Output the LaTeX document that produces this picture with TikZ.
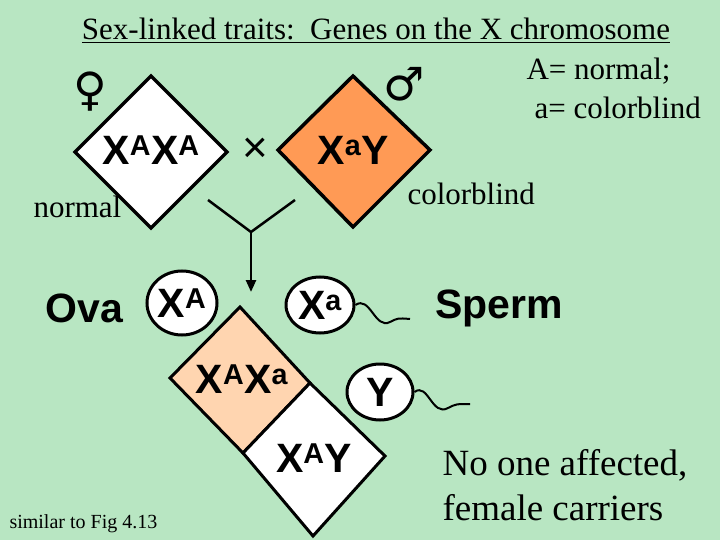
\documentclass[tikz,border=0pt]{standalone}
\usepackage{fontspec}
\setmainfont{Liberation Serif}
\newfontfamily\gsans{Liberation Sans}
\newfontfamily\symfont{DejaVu Sans}
\usetikzlibrary{arrows.meta,shapes.geometric}
\definecolor{bg}{HTML}{B8E6C2}
\definecolor{orng}{HTML}{FF9A55}
\definecolor{peach}{HTML}{FFD5B0}
\begin{document}
\begin{tikzpicture}[x=1pt,y=-1pt,
  geno/.style={font=\gsans\bfseries\fontsize{41}{41}\selectfont},
  lab/.style={font=\fontsize{31}{33}\selectfont},
  dia/.style={draw=black,line width=3.5pt,line join=miter},
  cell/.style={draw=black,line width=3pt,fill=white,ellipse},
  tail/.style={draw=black,line width=2pt}]
\fill[bg] (0,0) rectangle (720,540);
\useasboundingbox (0,0) rectangle (720,540);
% parents
\draw[dia,fill=white] (75,152)--(151,76)--(227,152)--(151,228)--cycle;
\draw[dia,fill=orng] (278,150)--(353,76)--(430,150)--(353,227)--cycle;
\node[geno] (f) at (151,150) {X\textsuperscript{A}X\textsuperscript{A}};
\node[geno] (m) at (353,150) {X\textsuperscript{a}Y};
\node[font=\gsans\fontsize{44}{44}\selectfont] (x) at (255,150) {×};
\node[font=\symfont\fontsize{46}{46}\selectfont] (fs) at (90,92) {♀};
\node[font=\symfont\fontsize{46}{46}\selectfont] (ms) at (404,84) {♂};
% Y and arrow
\coordinate (y1) at (208,200); \coordinate (y2) at (295,200);
\coordinate (yj) at (251,232); \coordinate (ya) at (251,292);
\draw[line width=2.5pt] (y1)--(yj)--(y2);
\draw[line width=2.5pt,-{Triangle[length=12pt,width=10pt]}] (yj)--(ya);
% gametes
\node[geno,anchor=west] (ova) at (42,308) {Ova};
\node[geno,anchor=west] (sp) at (432,308) {Sperm};
\node[cell,geno,minimum width=70pt,minimum height=64pt,inner sep=0pt] (xA) at (182,303) {X\textsuperscript{A}};
\node[cell,geno,minimum width=68pt,minimum height=56pt,inner sep=0pt] (xa) at (320,305) {X\textsuperscript{a}};
\node[cell,geno,minimum width=66pt,minimum height=56pt,inner sep=0pt] (yc) at (380,392) {Y};
\draw[tail] (xa.east) .. controls (370,295) and (375,330) .. (390,322) .. controls (398,318) .. (410,319);
\draw[tail] (yc.east) .. controls (428,382) and (432,417) .. (448,408) .. controls (456,404) .. (470,404);
% offspring
\draw[dia,fill=peach,line width=3pt] (240,307)--(310,383)--(243,453)--(170,378)--cycle;
\draw[dia,fill=white,line width=3pt] (310,383)--(385,456)--(313,536)--(243,453)--cycle;
\node[geno] (o1) at (242,379) {X\textsuperscript{A}X\textsuperscript{a}};
\node[geno] (o2) at (314,458) {X\textsuperscript{A}Y};
% texts
\node[lab,anchor=base] (t) at (376,40) {\underline{Sex-linked traits:\ \ Genes on the X chromosome}};
\node[lab,anchor=base west] (an) at (523,80) {A= normal;};
\node[lab,anchor=base west] (ac) at (531,119) {a= colorblind};
\node[lab,anchor=base west] (nl) at (30,218) {normal};
\node[lab,anchor=base west] (cb) at (404,205) {colorblind};
\node[font=\fontsize{37}{40}\selectfont,anchor=base west] (n1) at (439,475) {No one affected,};
\node[font=\fontsize{37}{40}\selectfont,anchor=base west] (n2) at (439,520) {female carriers};
\node[font=\fontsize{20}{22}\selectfont,anchor=base west] (sim) at (6,528) {similar to Fig 4.13};
\end{tikzpicture}
\end{document}
